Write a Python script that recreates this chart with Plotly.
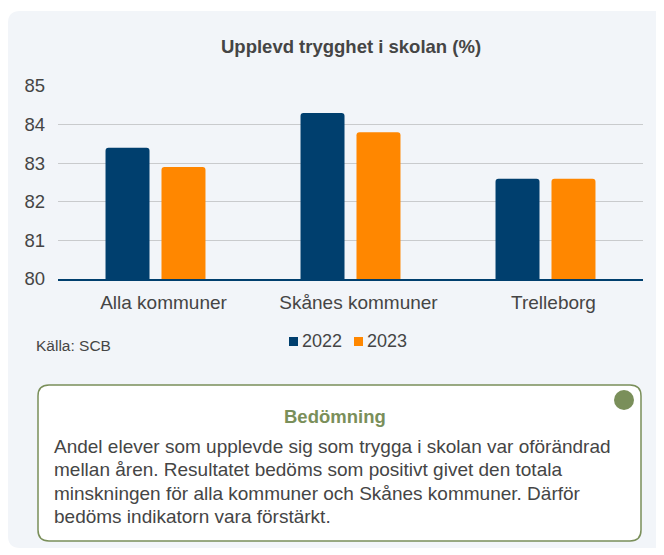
import plotly.graph_objects as go

# ---- data ----
categories = ["Alla kommuner", "Skånes kommuner", "Trelleborg"]
series_names = ["2022", "2023"]
values_2022 = [83.4, 84.3, 82.6]
values_2023 = [82.9, 83.8, 82.6]
y_ticks = [80, 81, 82, 83, 84, 85]

title_text = "Upplevd trygghet i skolan (%)"
source_text = "Källa: SCB"
box_title = "Bedömning"
box_lines = [
    "Andel elever som upplevde sig som trygga i skolan var oförändrad",
    "mellan åren. Resultatet bedöms som positivt givet den totala",
    "minskningen för alla kommuner och Skånes kommuner. Därför",
    "bedöms indikatorn vara förstärkt.",
]

# ---- style ----
NAVY = "#003f6e"
ORANGE = "#ff8700"
TXT = "#454545"
GREEN = "#7a8f5a"
PANEL = "#f2f5f9"
FONT = "Liberation Sans, Arial, sans-serif"

OFF = 8  # page body margin
W_PX, H_PX = 664 - OFF, 555 - OFF
L, R, T, B = 58, 643, 86, 279  # page pixel positions of plot area


def px(x):
    return (x - L) / (R - L)


def py(y):
    return (B - y) / (B - T)


def rrect(x0, y0, x1, y1, r):
    pts = [
        f"M {px(x0 + r)},{py(y0)}",
        f"L {px(x1 - r)},{py(y0)}",
        f"Q {px(x1)},{py(y0)} {px(x1)},{py(y0 + r)}",
        f"L {px(x1)},{py(y1 - r)}",
        f"Q {px(x1)},{py(y1)} {px(x1 - r)},{py(y1)}",
        f"L {px(x0 + r)},{py(y1)}",
        f"Q {px(x0)},{py(y1)} {px(x0)},{py(y1 - r)}",
        f"L {px(x0)},{py(y0 + r)}",
        f"Q {px(x0)},{py(y0)} {px(x0 + r)},{py(y0)}",
        "Z",
    ]
    return " ".join(pts)


fig = go.Figure()
colors = [NAVY, ORANGE]
for name, vals, col in zip(series_names, [values_2022, values_2023], colors):
    fig.add_trace(go.Bar(
        x=categories, y=vals, name=name,
        marker=dict(color=col, line=dict(width=0), cornerradius=3),
    ))

shapes = [
    dict(type="path", xref="paper", yref="paper", layer="below",
         path=rrect(8, 11, 668, 548, 12), fillcolor=PANEL, line=dict(width=0)),
    dict(type="path", xref="paper", yref="paper", layer="above",
         path=rrect(38, 385, 641, 541, 11), fillcolor="white",
         line=dict(color=GREEN, width=1.5)),
    dict(type="circle", xref="paper", yref="paper", layer="above",
         x0=px(614), x1=px(634), y0=py(390), y1=py(410),
         fillcolor=GREEN, line=dict(width=0)),
]

annotations = [
    dict(text=f"<b>{title_text}</b>", xref="paper", yref="paper",
         x=px(351), y=py(47), xanchor="center", yanchor="middle",
         showarrow=False, font=dict(size=18.5, color=TXT, family=FONT)),
    dict(text=source_text, xref="paper", yref="paper",
         x=px(34), y=py(345), xanchor="left", yanchor="middle",
         showarrow=False, font=dict(size=15.5, color=TXT, family=FONT)),
    dict(text=f"<b>{box_title}</b>", xref="paper", yref="paper",
         x=px(335), y=py(416), xanchor="center", yanchor="middle",
         showarrow=False, font=dict(size=18.5, color=GREEN, family=FONT)),
]

# custom legend
leg_x = [289, 354]
for name, col, lx in zip(series_names, colors, leg_x):
    shapes.append(dict(type="rect", xref="paper", yref="paper", layer="above",
                       x0=px(lx), x1=px(lx + 9), y0=py(337), y1=py(346),
                       fillcolor=col, line=dict(width=0)))
    annotations.append(dict(text=name, xref="paper", yref="paper",
                            x=px(lx + 11), y=py(341), xanchor="left", yanchor="middle",
                            showarrow=False, font=dict(size=18, color=TXT, family=FONT)))

line_centers = [446, 469.5, 493, 516]
for txt, yy in zip(box_lines, line_centers):
    annotations.append(dict(text=txt, xref="paper", yref="paper",
                            x=px(52), y=py(yy), xanchor="left", yanchor="middle",
                            showarrow=False, font=dict(size=19, color=TXT, family=FONT)))

fig.update_layout(
    width=W_PX, height=H_PX,
    margin=dict(l=L - OFF, r=W_PX - (R - OFF), t=T - OFF, b=H_PX - (B - OFF), pad=0),
    paper_bgcolor="white", plot_bgcolor="rgba(0,0,0,0)",
    barmode="group", bargap=0.426, bargroupgap=0.214,
    showlegend=False,
    font=dict(family=FONT, color=TXT),
    shapes=shapes, annotations=annotations,
    xaxis=dict(showgrid=False, showline=True, linecolor=NAVY, linewidth=1.5,
               ticks="", tickfont=dict(size=19, color=TXT, family=FONT),
               ticklabelstandoff=5, ticklabelshift=8, zeroline=False, fixedrange=True),
    yaxis=dict(range=[80, 85], tickvals=y_ticks, showgrid=True, gridcolor="#c9cbcd",
               gridwidth=1, zeroline=False, showline=False, ticks="",
               tickfont=dict(size=18.5, color=TXT, family=FONT), ticklabelstandoff=12,
               fixedrange=True),
)

fig.write_html("out.html", config={"displayModeBar": False})
